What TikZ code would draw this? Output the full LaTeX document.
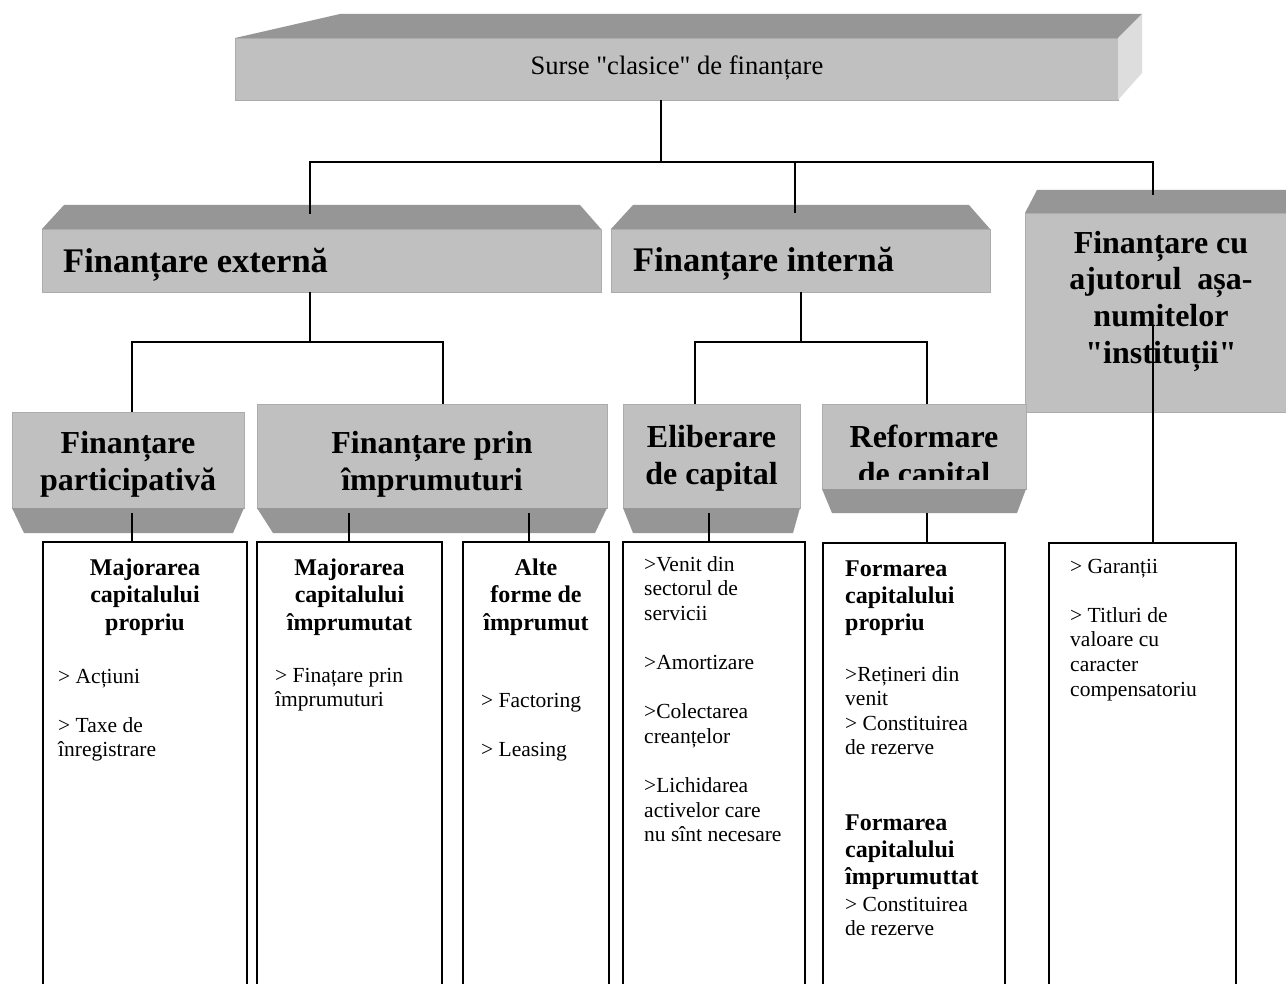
\documentclass[tikz,border=0pt]{standalone}
\usepackage{fontspec}
\setmainfont{Liberation Serif}[Ligatures=TeXOff]
\usetikzlibrary{calc}

\definecolor{faceGray}{RGB}{192,192,192}
\definecolor{shadeGray}{RGB}{150,150,150}
\definecolor{sideGray}{RGB}{221,221,221}
\definecolor{edgeGray}{RGB}{172,172,172}

% multi-line text nodes are placed by the baseline of their last line
\tikzset{
  face/.style={fill=faceGray, draw=edgeGray, line width=0.8pt, inner sep=0pt, outer sep=0pt, anchor=north west},
  shade/.style={fill=shadeGray},
  side/.style={fill=sideGray},
  leaf/.style={draw=black, fill=white, line width=2pt, inner sep=0pt, outer sep=0pt, anchor=north west, minimum height=470},
  link/.style={draw=black, line width=1.6pt},
  srctext/.style={font=\fontsize{26.6}{31}\selectfont, inner sep=0pt, anchor=base},
  bigtitle/.style={font=\bfseries\fontsize{34.5}{40}\selectfont, inner sep=0pt, anchor=base west},
  title/.style={font=\bfseries\fontsize{32}{37}\selectfont, align=center, inner sep=0pt, anchor=base},
  heading/.style={font=\bfseries\fontsize{24}{27.8}\selectfont, align=center, inner sep=0pt, anchor=base},
  headleft/.style={font=\bfseries\fontsize{24}{27.2}\selectfont, align=left, inner sep=0pt, anchor=base west},
  items/.style={font=\fontsize{21.5}{24.6}\selectfont, align=left, inner sep=0pt, anchor=base west}
}

\begin{document}
\begin{tikzpicture}[x=1pt, y=-1pt]
\useasboundingbox (0,0) rectangle (1286,984);
\fill[white] (0,0) rectangle (1286,984);
\clip (0,0) rectangle (1286,984);

% ---- top level box (top face + right side face) ----
\node[face, minimum width=883, minimum height=62] (src) at (235,38) {};
\fill[shade] (src.north west) -- (340,14) -- (1142,14) -- (src.north east) -- cycle;
\fill[side] (src.north east) -- (1142,14) -- (1142,73) -- (src.south east) -- cycle;

% ---- second level boxes (top face) ----
\node[face, minimum width=559, minimum height=63] (ext) at (42,229) {};
\fill[shade] (ext.north west) -- (64,205) -- (580,205) -- (ext.north east) -- cycle;
\node[face, minimum width=379, minimum height=63] (int) at (611,229) {};
\fill[shade] (int.north west) -- (633,205) -- (969,205) -- (int.north east) -- cycle;
\node[face, minimum width=275, minimum height=199] (inst) at (1025,213) {};
\fill[shade] (inst.north west) -- (1037,190) -- (1300,190) -- (inst.north east) -- cycle;

% ---- third level boxes (bottom face) ----
\node[face, minimum width=232, minimum height=96] (part) at (12,412) {};
\fill[shade] (part.south west) -- (24,533) -- (233,533) -- (part.south east) -- cycle;
\node[face, minimum width=350, minimum height=104] (prin) at (257,404) {};
\fill[shade] (prin.south west) -- (273,533) -- (595,533) -- (prin.south east) -- cycle;
\node[face, minimum width=177, minimum height=104] (elib) at (623,404) {};
\fill[shade] (elib.south west) -- (633,533) -- (793,533) -- (elib.south east) -- cycle;
\node[face, minimum width=204, minimum height=85] (ref) at (822,404) {};
\fill[shade] (ref.south west) -- (832,513) -- (1017,513) -- (ref.south east) -- cycle;

% ---- leaf boxes (run past the lower edge) ----
\node[leaf, minimum width=204] (b1) at (43,542) {};
\node[leaf, minimum width=185] (b2) at (257,542) {};
\node[leaf, minimum width=146] (b3) at (463,542) {};
\node[leaf, minimum width=182] (b4) at (623,542) {};
\node[leaf, minimum width=182] (b5) at (823,543) {};
\node[leaf, minimum width=187] (b6) at (1049,543) {};

% ---- box texts ----
\node[srctext] (srcT) at (677,75) {Surse "clasice" de finanțare};
\node[bigtitle] (extT) at (63,273) {Finanțare externă};
\node[bigtitle] (intT) at (633,272) {Finanțare internă};
\node[title] (instT) at (1161,364) {Finanțare cu\\ajutorul~~așa-\\numitelor\\"instituții"};
\node[title] (partT) at (128,490) {Finanțare\\participativă};
\node[title] (prinT) at (432,490) {Finanțare prin\\împrumuturi};
\node[title] (elibT) at (711.5,484) {Eliberare\\de capital};
\begin{scope}
  \clip (822,404) rectangle (1026,479);
  \node[title] (refT) at (924,484) {Reformare\\de capital};
\end{scope}

% ---- leaf texts ----
\node[heading] (b1H) at (145,630.6) {Majorarea\\capitalului\\propriu};
\node[items] (b1L) at (58,756.8) {> Acțiuni\\[24.6pt]> Taxe de\\înregistrare};
\node[heading] (b2H) at (349.5,630.6) {Majorarea\\capitalului\\împrumutat};
\node[items] (b2L) at (275,706.6) {> Finațare prin\\împrumuturi};
\node[heading] (b3H) at (536,630.6) {Alte\\forme de\\împrumut};
\node[items] (b3L) at (481,756.2) {> Factoring\\[24.6pt]> Leasing};
\node[items] (b4L) at (644,841.6) {>Venit din\\sectorul de\\servicii\\[24.6pt]>Amortizare\\[24.6pt]>Colectarea\\creanțelor\\[24.6pt]>Lichidarea\\activelor care\\nu sînt necesare};
\node[headleft] (b5H1) at (845,630.4) {Formarea\\capitalului\\propriu};
\node[items] (b5L1) at (845,754.8) {>Rețineri din\\venit\\> Constituirea\\de rezerve};
\node[headleft] (b5H2) at (845,884.4) {Formarea\\capitalului\\împrumuttat};
\node[items] (b5L2) at (845,935.6) {> Constituirea\\de rezerve};
\node[items] (b6L) at (1070,696) {> Garanții\\[24.6pt]> Titluri de\\valoare cu\\caracter\\compensatoriu};

% ---- junctions and entry points of the connectors ----
\coordinate (j0) at (661,162);
\coordinate (extIn) at (310,214);
\coordinate (intIn) at (795,213);
\coordinate (instIn) at (1153,195);
\coordinate (j1) at (310,342);
\coordinate (prinIn) at (443,404);
\coordinate (j2) at (801,342);
\coordinate (elibIn) at (695,404);
\coordinate (refIn) at (927,404);
\coordinate (instOut) at (1153,325);
\coordinate (x1) at (132,0);
\coordinate (x2) at (349,0);
\coordinate (x3) at (529,0);
\coordinate (x4) at (709,0);
\coordinate (x5) at (927,0);
\coordinate (x6) at (1153,0);

% ---- connectors ----
\draw[link] (src.south -| j0) -- (j0);
\draw[link] (extIn) -- (extIn |- j0) -- (instIn |- j0) -- (instIn);
\draw[link] (intIn) -- (intIn |- j0);

\draw[link] (ext.south -| j1) -- (j1);
\draw[link] (part.north -| x1) |- (prinIn |- j1) -- (prinIn);
\draw[link] (int.south -| j2) -- (j2);
\draw[link] (elibIn) |- (refIn |- j2) -- (refIn);

\draw[link] ([yshift=-5pt]part.south -| x1) -- (b1.north -| x1);
\draw[link] ([yshift=-5pt]prin.south -| x2) -- (b2.north -| x2);
\draw[link] ([yshift=-5pt]prin.south -| x3) -- (b3.north -| x3);
\draw[link] ([yshift=-5pt]elib.south -| x4) -- (b4.north -| x4);
\draw[link] ([yshift=-24pt]ref.south -| x5) -- (b5.north -| x5);
\draw[link] (instOut) -- (b6.north -| x6);
\end{tikzpicture}
\end{document}
